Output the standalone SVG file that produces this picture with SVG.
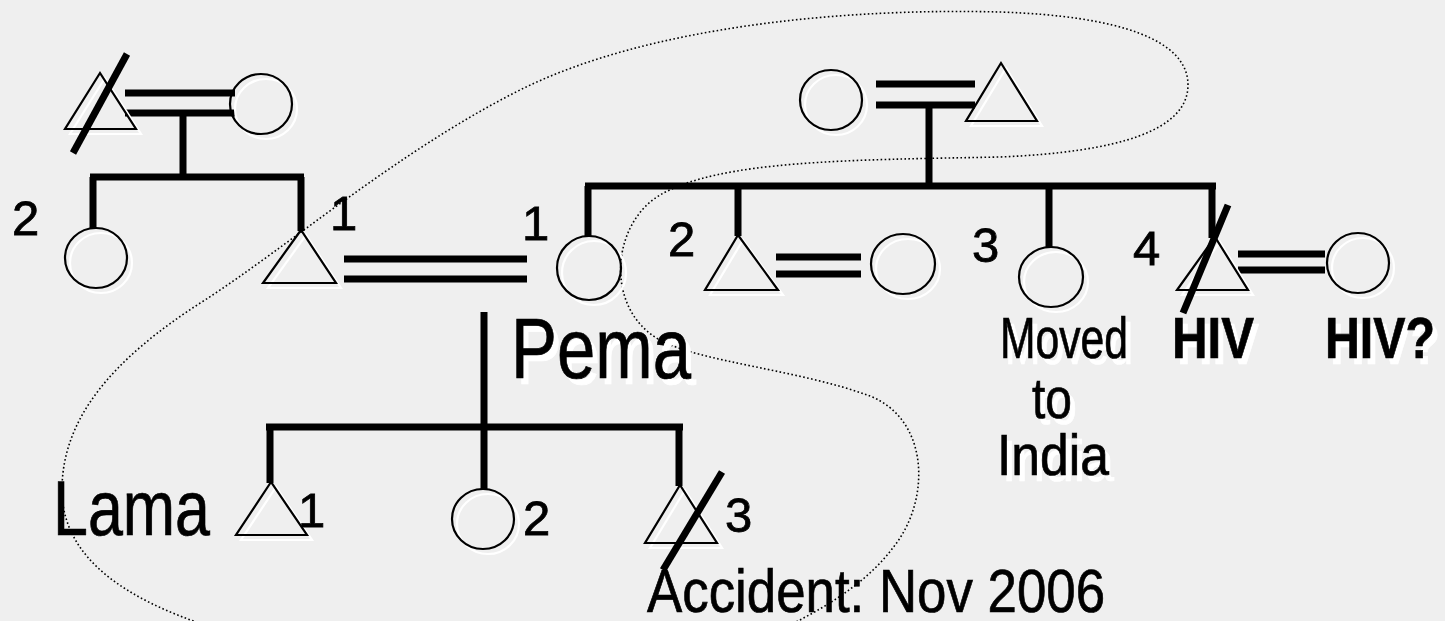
<svg xmlns="http://www.w3.org/2000/svg" xmlns:xlink="http://www.w3.org/1999/xlink" width="1445" height="621" viewBox="0 0 1445 621">
<style>
.sh{fill:none;stroke:#fff;stroke-width:2.2}
.sy{fill:none;stroke:#000;stroke-width:2.2}
.ln{stroke:#000;stroke-width:7;fill:none}
.sl{stroke:#000;stroke-width:7}
.dot{fill:none;stroke:#000;stroke-width:1.6;stroke-dasharray:1.6 2.4}
.t{font-family:"Liberation Sans",Arial,sans-serif;fill:#000;stroke:#000;stroke-width:0.7}
.tw{font-family:"Liberation Sans",Arial,sans-serif;fill:#fff;stroke:#fff;stroke-width:0.7}
.num{font-family:"Liberation Sans",Arial,sans-serif;font-size:49px;fill:#000;stroke:#000;stroke-width:0.8}
</style>
<rect width="1445" height="621" fill="#efefef"/>
<g id="enclosure">
<path class="dot" d="M 205 625 C 130 600, 62 560, 62 490 C 62 420, 110 360, 205 300 C 290 245, 400 150, 520 90 C 650 25, 850 8, 1000 12 C 1120 16, 1188 40, 1188 85 C 1188 130, 1120 152, 1000 157 C 850 160, 720 160, 660 195 C 610 225, 605 310, 660 340 C 700 362, 800 370, 870 396 C 930 420, 930 500, 895 545 C 870 580, 830 605, 790 625"/>
</g>
<g id="connectors">
<path class="ln" d="M125 93H235M125 113H235M183 113V177M90 177H304M93 177V229M301 177V231"/>
<path class="ln" d="M344 259H527M344 279H527"/>
<path class="ln" d="M484 312V427M266 427H683M270 427V483M484 427V489M679 427V486"/>
<path class="ln" d="M876 84H975M876 105H975M929 105V186M585 186H1216M588 186V237M738 186V236M1049 186V248M1212 186V238"/>
<path class="ln" d="M776 257H861M776 274H861"/>
<path class="ln" d="M1238 254H1325M1238 270H1325"/>
</g>
<g id="gp_left_male">
<polygon class="sh" points="105,78 70,134 141,134"/>
<polygon class="sy" points="100,73 65,129 136,129"/>
<line class="sl" x1="127" y1="54" x2="73" y2="153"/>
</g>
<g id="gp_left_female">
<ellipse class="sh" cx="266" cy="109" rx="31" ry="30"/>
<ellipse class="sy" cx="261" cy="104" rx="31" ry="30"/>
</g>
<g id="aunt_left">
<ellipse class="sh" cx="101" cy="263" rx="31" ry="30"/>
<ellipse class="sy" cx="96" cy="258" rx="31" ry="30"/>
<text class="num" x="12" y="235">2</text>
</g>
<g id="father">
<polygon class="sh" points="306,235 268,288 341,288"/>
<polygon class="sy" points="301,230 263,283 336,283"/>
<text class="num" x="330" y="230">1</text>
</g>
<g id="pema">
<ellipse class="sh" cx="594" cy="273" rx="32" ry="32"/>
<ellipse class="sy" cx="589" cy="268" rx="32" ry="32"/>
<text class="num" x="522" y="240">1</text>
<text class="tw" x="516" y="384" font-size="85" textLength="180" lengthAdjust="spacingAndGlyphs">Pema</text>
<text class="t" x="511" y="378" font-size="85" textLength="180" lengthAdjust="spacingAndGlyphs">Pema</text>
</g>
<g id="lama">
<polygon class="sh" points="276,487 241,540 312,540"/>
<polygon class="sy" points="271,482 236,535 307,535"/>
<text class="num" x="298" y="527">1</text>
<text class="t" x="53" y="535" font-size="77" textLength="157" lengthAdjust="spacingAndGlyphs">Lama</text>
</g>
<g id="child2">
<ellipse class="sh" cx="488" cy="524" rx="31" ry="30"/>
<ellipse class="sy" cx="483" cy="519" rx="31" ry="30"/>
<text class="num" x="523" y="535">2</text>
</g>
<g id="child3">
<polygon class="sh" points="685,490 650,548 722,548"/>
<polygon class="sy" points="680,485 645,543 717,543"/>
<line class="sl" x1="722" y1="472" x2="663" y2="570"/>
<text class="num" x="725" y="532">3</text>
<text class="t" x="647" y="612" font-size="61" textLength="458" lengthAdjust="spacingAndGlyphs">Accident: Nov 2006</text>
</g>
<g id="gp_right_female">
<ellipse class="sh" cx="836" cy="105" rx="31" ry="30"/>
<ellipse class="sy" cx="831" cy="100" rx="31" ry="30"/>
</g>
<g id="gp_right_male">
<polygon class="sh" points="1006,68 971,126 1042,126"/>
<polygon class="sy" points="1001,63 966,121 1037,121"/>
</g>
<g id="sib2">
<polygon class="sh" points="743,240 710,295 783,295"/>
<polygon class="sy" points="738,235 705,290 778,290"/>
<text class="num" x="668" y="256">2</text>
</g>
<g id="sib2_spouse">
<ellipse class="sh" cx="908" cy="269" rx="32" ry="30"/>
<ellipse class="sy" cx="903" cy="264" rx="32" ry="30"/>
</g>
<g id="sib3">
<ellipse class="sh" cx="1056" cy="282" rx="32" ry="30"/>
<ellipse class="sy" cx="1051" cy="277" rx="32" ry="30"/>
<text class="num" x="972" y="262">3</text>
<text class="tw" x="1005" y="364" font-size="57" textLength="128" lengthAdjust="spacingAndGlyphs">Moved</text>
<text class="t" x="1000" y="358" font-size="57" textLength="128" lengthAdjust="spacingAndGlyphs">Moved</text>
<text class="tw" x="1057" y="424" font-size="57" text-anchor="middle" textLength="40" lengthAdjust="spacingAndGlyphs">to</text>
<text class="t" x="1052" y="418" font-size="57" text-anchor="middle" textLength="40" lengthAdjust="spacingAndGlyphs">to</text>
<text class="tw" x="1058" y="481" font-size="57" text-anchor="middle" textLength="112" lengthAdjust="spacingAndGlyphs">India</text>
<text class="t" x="1053" y="475" font-size="57" text-anchor="middle" textLength="112" lengthAdjust="spacingAndGlyphs">India</text>
</g>
<g id="sib4">
<polygon class="sh" points="1220,242 1182,295 1253,295"/>
<polygon class="sy" points="1215,237 1177,290 1248,290"/>
<line class="sl" x1="1228" y1="205" x2="1183" y2="313"/>
<text class="num" x="1133" y="265">4</text>
<text class="tw" x="1177" y="364" font-size="57" font-weight="bold" textLength="82" lengthAdjust="spacingAndGlyphs">HIV</text>
<text class="t" x="1172" y="358" font-size="57" font-weight="bold" textLength="82" lengthAdjust="spacingAndGlyphs">HIV</text>
</g>
<g id="sib4_spouse">
<ellipse class="sh" cx="1363" cy="268" rx="31" ry="30"/>
<ellipse class="sy" cx="1358" cy="263" rx="31" ry="30"/>
<text class="tw" x="1330" y="364" font-size="57" font-weight="bold" textLength="110" lengthAdjust="spacingAndGlyphs">HIV?</text>
<text class="t" x="1325" y="358" font-size="57" font-weight="bold" textLength="110" lengthAdjust="spacingAndGlyphs">HIV?</text>
</g>
</svg>
